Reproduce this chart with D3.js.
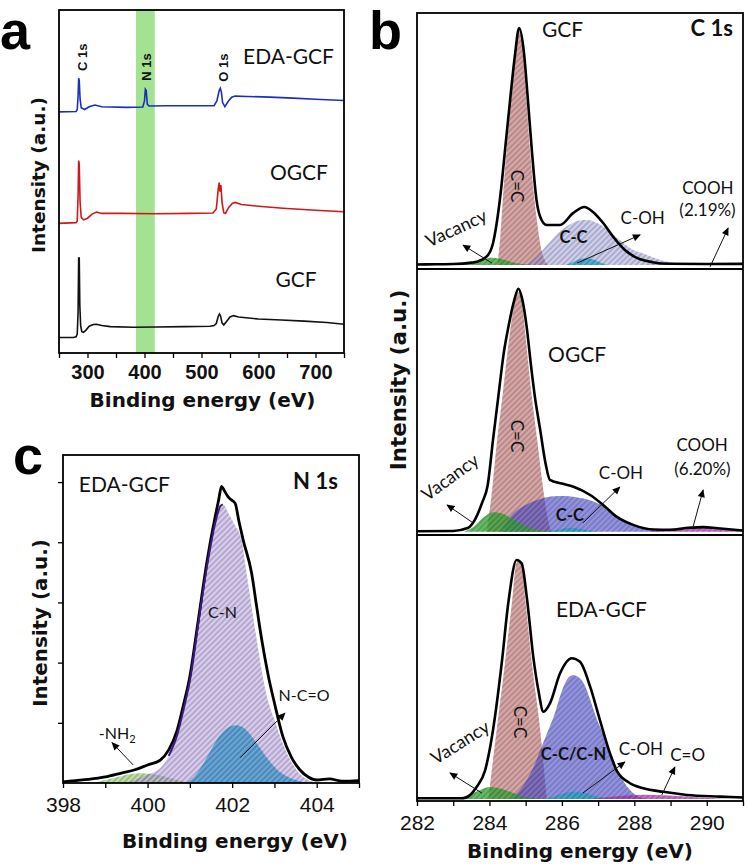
<!DOCTYPE html>
<html><head><meta charset="utf-8">
<script src="https://cdn.jsdelivr.net/npm/d3@7"></script>
<style>body{margin:0;background:#fff} svg{display:block}</style>
</head><body><svg id="c" width="748" height="868"></svg>
<script>
// ---------------- DATA ----------------
// Panel a: XPS survey spectra  [binding energy (eV), intensity (a.u.)]
const surveyGCF = [[250,4.5],[275,4.5],[280,4.7],[282,5.5],[283.5,12],[284.5,27.7],[285.5,27.7],[286.5,14],[288,8],[290,6.2],[293,6.0],[297,6.6],[303,7.8],[310,8.3],[316,8.4],[325,8.0],[340,7.7],[380,7.5],[420,7.6],[470,7.7],[515,7.8],[522,8.0],[526,8.6],[529,10.5],[531.5,11.4],[533.5,10.8],[536,8.8],[539,8.2],[544,9.2],[550,10.5],[556,10.9],[565,10.5],[600,9.9],[640,9.6],[680,9.3],[720,8.9],[750,8.4]];
const surveyOGCF = [[250,37.8],[280,38.0],[282,38.5],[283.5,46],[284.5,56.1],[285.5,55],[287,44],[289,39.5],[293,38.8],[300,39.3],[308,40.5],[316,41.1],[325,40.7],[360,40.7],[420,40.6],[480,40.7],[520,40.8],[526,42],[529.5,48],[531,49.7],[532.5,47],[534,49],[536,44],[539,40.9],[542,40.7],[548,42.5],[554,43.6],[559,43.9],[570,43.3],[600,42.8],[643,42.2],[700,41.6],[750,41.2]];
const surveyEDA = [[250,70.3],[280,70.4],[282,71],[283.5,75],[284.5,80.1],[285.5,79.5],[287,74],[289,71.5],[295,71.0],[303,71.8],[313,72.3],[325,71.8],[369,71.6],[397,71.7],[400,73.5],[401.5,76.9],[403,76.5],[405,72.5],[408,72.0],[440,72.1],[480,72.1],[522,72.1],[527,73.5],[531,76.5],[533,77.2],[535,76],[537,73],[541,71.8],[547,73.4],[553,74.6],[559,74.9],[580,74.8],[620,74.6],[661,74.3],[700,74.0],[750,73.6]];
const surveyBand = [385, 418];
const surveyTicks = [300, 400, 500, 600, 700];
const surveyNames = [["EDA-GCF",652.6,86.6],["OGCF",671,52.6],["GCF",665.8,21.4]];
const surveyPeaks = [["C 1s",291.2,86.2],["N 1s",402.6,83.4],["O 1s",537.7,83.2]];

// Panel b: C 1s high-resolution spectra  [eV, intensity (% of C=C peak)]
const gcfEnv = [[282,0.2],[282.5,0.3],[283,0.4],[283.5,1.0],[283.65,1.4],[283.92,3.5],[284.1,9.3],[284.25,23],[284.34,34.6],[284.43,48.5],[284.57,69.6],[284.7,88],[284.82,100],[284.95,90],[285.05,72],[285.17,48.5],[285.3,27.4],[285.4,20.4],[285.58,16.9],[285.95,16.9],[286.31,21.9],[286.62,24.5],[286.85,22.5],[287.14,17.7],[287.41,12],[287.74,6.3],[288.07,3],[288.5,1.2],[289,0.5],[290,0.4],[291,0.5]];
const gcfCeqC = [[284.22,0],[284.3,12],[284.38,30],[284.47,48],[284.6,70],[284.72,90],[284.82,98.5],[284.9,95],[285.0,75],[285.12,48.5],[285.2,34],[285.3,20],[285.44,6],[285.62,0]];
const gcfVac = [[283.2,0],[283.5,0.8],[283.8,2.3],[284.05,3.1],[284.3,2.6],[284.6,1.3],[284.9,0.4],[285.2,0]];
const gcfCC = [[285.0,0],[285.3,3.5],[285.6,8.5],[285.9,13.5],[286.2,17],[286.5,18.8],[286.7,19],[287.0,17.5],[287.3,14.5],[287.6,10.5],[287.9,7],[288.3,4.5],[288.7,2.2],[289.2,0.6],[289.7,0]];
const gcfCOH = [[286.1,0],[286.3,1.2],[286.5,2.5],[286.65,2.9],[286.85,2.4],[287.05,1.2],[287.25,0]];
const gcfCOOH = [[288.3,0],[289,0.4],[289.8,0.8],[290.5,0.8],[291,0.6]];

const ogcfEnv = [[282,0.2],[283,0.3],[283.4,1.5],[283.6,5],[283.8,12],[283.95,19],[284.1,38],[284.24,55],[284.4,74],[284.52,84],[284.68,95],[284.8,100],[284.9,96],[285.03,84],[285.15,68],[285.25,56],[285.4,42],[285.55,28],[285.67,21.3],[286.0,19.8],[286.32,18.5],[286.78,15.1],[287.14,11],[287.51,6.2],[287.97,2.8],[288.53,0.9],[289,0.8],[289.5,1.6],[289.9,1.9],[290.3,1.4],[291,0.5]];
const ogcfCeqC = [[283.92,0],[284.05,14],[284.2,36],[284.37,57],[284.55,80],[284.72,96],[284.8,98.5],[284.88,96],[285.0,80],[285.15,58],[285.3,40],[285.48,18],[285.6,6],[285.7,0]];
const ogcfVac = [[283.3,0],[283.6,2.5],[283.85,6],[284.1,8],[284.35,7.5],[284.6,5.5],[284.9,3],[285.3,1],[285.8,0]];
const ogcfCC = [[284.3,0],[284.6,6.5],[285.0,11],[285.4,13.5],[285.8,14.6],[286.1,14.7],[286.4,14.2],[286.8,12.8],[287.14,10.5],[287.5,6.2],[287.9,3],[288.4,0.9],[288.9,0]];
const ogcfCOH = [[285.6,0],[285.9,0.9],[286.2,1.6],[286.5,1.2],[286.9,0.2],[287.0,0]];
const ogcfCOOH = [[288.4,0],[288.8,0.8],[289.2,1.6],[289.6,2.0],[290.0,1.7],[290.4,1.0],[290.8,0.4],[291,0.2]];

const edaEnv = [[282,0.3],[283,0.3],[283.28,0.3],[283.65,5.1],[283.88,12],[284.1,29],[284.34,57],[284.52,82],[284.75,100],[284.89,98.6],[285.03,84.6],[285.21,59.5],[285.35,45.6],[285.49,36.5],[285.67,40],[285.95,52.6],[286.27,58.9],[286.5,57.4],[286.78,47],[287.05,33],[287.33,19],[287.51,12],[287.88,6.6],[288.25,4.5],[288.8,3],[289.45,1.7],[290.37,1],[291,0.6]];
const edaCeqC = [[283.97,0],[284.2,29],[284.43,57],[284.62,82],[284.75,99],[284.82,99.5],[284.9,97],[285.0,82],[285.17,57],[285.4,29],[285.58,0]];
const edaVac = [[282.9,0],[283.3,1.2],[283.7,3.5],[284.0,5],[284.3,4.4],[284.6,2.8],[284.9,1.2],[285.3,0.3],[285.5,0]];
const edaCCCN = [[284.6,0],[284.8,3],[285.03,7.9],[285.25,14.5],[285.44,21.9],[285.63,29],[285.81,36],[285.95,43],[286.09,48.5],[286.2,51],[286.32,51.9],[286.45,51],[286.6,48.5],[286.78,41.5],[286.95,34],[287.14,27],[287.3,20.5],[287.42,16.5],[287.6,10],[287.74,6.5],[287.97,2.4],[288.2,0.5],[288.35,0]];
const edaCOH = [[285.5,0],[285.8,1.2],[286.1,2.5],[286.35,3],[286.6,2.6],[286.9,1.4],[287.2,0.4],[287.4,0]];
const edaCeqO = [[286.8,0],[287.3,0.8],[287.8,1.5],[288.3,1.8],[288.8,1.6],[289.3,1.1],[289.8,0.6],[290.3,0.2],[290.6,0]];
const c1sTicks = [282, 284, 286, 288, 290];

// annotation anchors in data units [text, eV, intensity]
const gcfLabels = [["GCF",286.02,99.4],["C-C",286.32,11.6],["C-OH",288.23,20.0],["COOH",290.03,32.7],["(2.19%)",290.02,23.2]];
const ogcfLabels = [["OGCF",286.42,72.9],["C-C",286.22,6.7],["C-OH",287.63,24.4],["COOH",289.87,35.9],["(6.20%)",289.88,26.0]];
const edaLabels = [["EDA-GCF",287.09,79.3],["C-C/C-N",286.32,18.6],["C-OH",288.18,21.1],["C=O",289.47,18.6]];
const gcfArrows = [[284.07,0.8,283.27,8.4],[286.42,0.8,288.16,12.7],[290.09,-0.8,290.59,15.6]];
const ogcfArrows = [[283.55,3.6,282.83,11.0],[286.58,3.6,287.6,18.4],[289.62,1.9,289.9,17.2]];
const edaArrows = [[283.79,2.5,282.91,10.9],[286.58,2.5,287.74,15.5],[288.76,1.7,289.12,13.4]];
const ceqcPos = [[284.76,33.3],[284.77,39.4],[284.84,32.2]];
const vacPos = [[283.08,15.6,-25],[282.91,22.5,-36],[283.19,23.8,-32]];

// Panel c: N 1s high-resolution spectrum [eV, intensity (a.u.)]
const n1sEnv = [[398.0,0.02],[398.3,0.04],[398.6,0.06],[399.0,0.1],[399.4,0.17],[399.7,0.22],[400.0,0.3],[400.3,0.38],[400.5,0.55],[400.7,0.88],[400.85,1.3],[401.0,1.77],[401.2,2.71],[401.4,3.66],[401.6,4.43],[401.68,4.7],[401.75,4.93],[401.82,4.85],[401.92,4.74],[402.07,4.65],[402.16,4.35],[402.26,4.04],[402.46,3.49],[402.58,2.93],[402.7,2.38],[402.85,1.8],[403.0,1.33],[403.2,0.77],[403.4,0.43],[403.6,0.22],[403.8,0.1],[404.0,0.05],[404.3,0.07],[404.6,0.03],[405,0.04]];
const n1sCN = [[399.5,0],[399.8,0.08],[400.0,0.14],[400.3,0.25],[400.5,0.45],[400.7,0.8],[400.85,1.22],[401.0,1.7],[401.2,2.65],[401.4,3.58],[401.6,4.32],[401.72,4.6],[401.78,4.63],[401.9,4.5],[402.05,4.3],[402.22,4.04],[402.34,3.49],[402.46,2.93],[402.58,2.38],[402.8,1.5],[403.0,1.05],[403.2,0.65],[403.4,0.35],[403.6,0.15],[403.8,0.05],[404.0,0]];
const n1sNCO = [[400.9,0],[401.1,0.1],[401.3,0.3],[401.5,0.55],[401.7,0.78],[401.9,0.92],[402.1,0.96],[402.3,0.9],[402.5,0.74],[402.7,0.54],[402.9,0.35],[403.1,0.2],[403.35,0.09],[403.6,0.03],[403.9,0]];
const n1sNH2 = [[398.7,0],[399.0,0.05],[399.3,0.1],[399.6,0.15],[399.85,0.16],[400.1,0.15],[400.4,0.11],[400.7,0.05],[401.0,0]];
const n1sTicks = [398, 400, 402, 404];
const n1sYTicks = [1, 2, 3, 4, 5];
const n1sLabels = [["C-N",401.77,2.84],["N-C=O",403.7,1.46]];
const n1sArrows = [[399.66,0.3,399.16,0.67],[402.19,0.42,403.25,1.16]];

// ---------------- DRAWING ----------------
const svg = d3.select("#c");
const FS = "'Liberation Sans', Arial, sans-serif";
const FL = "Lato, 'Open Sans', sans-serif";
const FT = "'DejaVu Sans', Verdana, sans-serif";
const defs = svg.append("defs");
const pat = defs.append("pattern").attr("id","hatch").attr("width",4).attr("height",4)
  .attr("patternUnits","userSpaceOnUse").attr("patternTransform","rotate(45)");
pat.append("line").attr("x1",1).attr("y1",0).attr("x2",1).attr("y2",4)
  .attr("stroke","#333").attr("stroke-width",1).attr("stroke-opacity",0.45);
defs.append("marker").attr("id","arr").attr("viewBox","0 0 10 10").attr("refX",9).attr("refY",5)
  .attr("markerWidth",9).attr("markerHeight",8).attr("orient","auto").attr("markerUnits","userSpaceOnUse")
  .append("path").attr("d","M0,0.5L10,5L0,9.5Z").attr("fill","#000");

function clip(id,x,y,w,h){defs.append("clipPath").attr("id",id).append("rect").attr("x",x).attr("y",y).attr("width",w).attr("height",h);}
function frame(x,y,w,h){svg.append("rect").attr("x",x).attr("y",y).attr("width",w).attr("height",h).attr("fill","none").attr("stroke","#000").attr("stroke-width",1.8);}
function comp(g,xs,ys,data,color,op){
  const ar = d3.area().x(d=>xs(d[0])).y0(ys(0)).y1(d=>ys(d[1])).curve(d3.curveMonotoneX);
  g.append("path").datum(data).attr("d",ar).attr("fill",color).attr("fill-opacity",op);
  g.append("path").datum(data).attr("d",ar).attr("fill","url(#hatch)");
}
function txt(g,x,y,s,size,font,weight,anchor,rot){
  const t = g.append("text").attr("transform",`translate(${x},${y})`+(rot?` rotate(${rot})`:""))
   .attr("text-anchor",anchor||"middle").attr("dy","0.36em").attr("font-family",font)
   .attr("font-size",size).attr("font-weight",weight||"normal").attr("fill","#111").text(s);
  return t;
}
function arrow(g,x1,y1,x2,y2){g.append("line").attr("x1",x1).attr("y1",y1).attr("x2",x2).attr("y2",y2)
  .attr("stroke","#111").attr("stroke-width",1).attr("marker-end","url(#arr)");}
function styleAxis(ax,size,weight){
  ax.select(".domain").remove();
  ax.selectAll(".tick line").attr("stroke","#000").attr("stroke-width",1.3);
  ax.selectAll(".tick text").attr("font-family",FS).attr("font-size",size).attr("font-weight",weight).attr("fill","#111");
}

// ----- Panel a -----
const xa = d3.scaleLinear().domain([250,750]).range([59,344]);
const ya = d3.scaleLinear().domain([0,100]).range([353,10]);
clip("ca",59,10,285,343);
const ga = svg.append("g").attr("clip-path","url(#ca)");
ga.append("rect").attr("x",xa(surveyBand[0])).attr("y",10).attr("width",xa(surveyBand[1])-xa(surveyBand[0])).attr("height",343).attr("fill","#a3e290");
const la = d3.line().x(d=>xa(d[0])).y(d=>ya(d[1]));
ga.append("path").datum(surveyGCF).attr("d",la).attr("fill","none").attr("stroke","#111").attr("stroke-width",1.6);
ga.append("path").datum(surveyOGCF).attr("d",la).attr("fill","none").attr("stroke","#cc1a1a").attr("stroke-width",1.6);
ga.append("path").datum(surveyEDA).attr("d",la).attr("fill","none").attr("stroke","#1a2fc0").attr("stroke-width",1.6);
frame(59,10,285,343);
const axA = svg.append("g").attr("transform","translate(0,353)")
  .call(d3.axisBottom(xa).tickValues(d3.range(250,751,50)).tickSize(5).tickPadding(7)
  .tickFormat(d=>surveyTicks.includes(d)?d:""));
styleAxis(axA,20,"bold");
surveyNames.forEach(n=>txt(svg,xa(n[1]),ya(n[2]),n[0],21,FL));
surveyPeaks.forEach(n=>txt(svg,xa(n[1]),ya(n[2]),n[0],13,FS,"bold","middle",-90));
txt(svg,38.5,175,"Intensity (a.u.)",18.5,FT,"bold","middle",-90);
txt(svg,202.5,400,"Binding energy (eV)",20,FT,"bold");
svg.append("text").attr("x",0).attr("y",49).attr("font-family",FS).attr("font-weight","bold").attr("font-size",54).text("a");

// ----- Panel b -----
const xb = d3.scaleLinear().domain([282,291]).range([417,743]);
const subs = [
  {top:13,bot:269,base:265,unit:2.37,env:gcfEnv,comps:[[gcfCeqC,"#b03a3a",0.45],[gcfCC,"#8f8fe2",0.42],[gcfVac,"#2ea82e",0.75],[gcfCOH,"#22aad0",0.75],[gcfCOOH,"#b030b0",0.7]],labels:gcfLabels,arrows:gcfArrows},
  {top:269,bot:535,base:531.7,unit:2.43,env:ogcfEnv,comps:[[ogcfCeqC,"#b03a3a",0.45],[ogcfCC,"#4a4ad6",0.6],[ogcfVac,"#2ea82e",0.75],[ogcfCOH,"#22aad0",0.75],[ogcfCOOH,"#b030b0",0.7]],labels:ogcfLabels,arrows:ogcfArrows},
  {top:535,bot:801,base:799,unit:2.39,env:edaEnv,comps:[[edaCeqC,"#b03a3a",0.45],[edaCCCN,"#4a4ad6",0.6],[edaVac,"#2ea82e",0.75],[edaCOH,"#22aad0",0.75],[edaCeqO,"#b030b0",0.7]],labels:edaLabels,arrows:edaArrows}
];
subs.forEach((s,i)=>{
  const ys = d3.scaleLinear().domain([-(s.bot-s.base)/s.unit,(s.base-s.top)/s.unit]).range([s.bot,s.top]);
  clip("cb"+i,417,s.top,326,s.bot-s.top);
  const g = svg.append("g").attr("clip-path",`url(#cb${i})`);
  s.comps.forEach(c=>comp(g,xb,ys,c[0],c[1],c[2]));
  g.append("path").datum(s.env).attr("d",d3.line().x(d=>xb(d[0])).y(d=>ys(d[1])).curve(d3.curveMonotoneX))
    .attr("fill","none").attr("stroke","#000").attr("stroke-width",2.6).attr("stroke-linejoin","round");
  const gl = svg.append("g");
  s.labels.forEach((L,j)=>{
    const first = j===0;
    const bold = L[0].startsWith("C-C");
    txt(gl,xb(L[1]),ys(L[2]),L[0],first?21:(bold?16.5:17),FL,bold?"bold":"normal");
  });
  s.arrows.forEach(a=>arrow(gl,xb(a[0]),ys(a[1]),xb(a[2]),ys(a[3])));
  txt(gl,xb(ceqcPos[i][0]),ys(ceqcPos[i][1]),"C=C",17,FL,"normal","middle",90);
  txt(gl,xb(vacPos[i][0]),ys(vacPos[i][1]),"Vacancy",18,FL,"normal","middle",vacPos[i][2]);
  if(i===0) txt(gl,xb(290.72),ys(99.8),"C 1s",22,FL,"bold","end");
});
frame(417,13,326,788);
svg.append("line").attr("x1",417).attr("x2",743).attr("y1",269).attr("y2",269).attr("stroke","#000").attr("stroke-width",1.8);
svg.append("line").attr("x1",417).attr("x2",743).attr("y1",535).attr("y2",535).attr("stroke","#000").attr("stroke-width",1.8);
const axB = svg.append("g").attr("transform","translate(0,801)")
  .call(d3.axisBottom(xb).tickValues(d3.range(282,292,1)).tickSize(5).tickPadding(9)
  .tickFormat(d=>c1sTicks.includes(d)?d:""));
styleAxis(axB,21,"normal");
txt(svg,398.5,380,"Intensity (a.u.)",21.4,FT,"bold","middle",-90);
txt(svg,580,851,"Binding energy (eV)",20,FT,"bold");
svg.append("text").attr("x",369).attr("y",49).attr("font-family",FS).attr("font-weight","bold").attr("font-size",54).text("b");

// ----- Panel c -----
const xc = d3.scaleLinear().domain([398,405]).range([63,359]);
const yc = d3.scaleLinear().domain([0,5.45]).range([783,455]);
clip("cc",63,455,296,328);
const gc = svg.append("g").attr("clip-path","url(#cc)");
comp(gc,xc,yc,n1sNH2,"#8fd16a",0.6);
comp(gc,xc,yc,n1sCN,"#b59ae8",0.5);
comp(gc,xc,yc,n1sNCO,"#3d9bd8",0.75);
gc.append("path").datum(n1sEnv).attr("d",d3.line().x(d=>xc(d[0])).y(d=>yc(d[1])).curve(d3.curveMonotoneX))
  .attr("fill","none").attr("stroke","#000").attr("stroke-width",2.8).attr("stroke-linejoin","round");
const cnPeak = d3.max(n1sCN,d=>d[1]);
const cnLeft = n1sCN.filter(d=>d[0] <= n1sCN.find(p=>p[1]===cnPeak)[0] && d[1]>0.4);
gc.append("path").datum(cnLeft).attr("d",d3.line().x(d=>xc(d[0])).y(d=>yc(d[1])).curve(d3.curveMonotoneX))
  .attr("fill","none").attr("stroke","#3a1a7a").attr("stroke-width",2);
frame(63,455,296,328);
const axC = svg.append("g").attr("transform","translate(0,783)")
  .call(d3.axisBottom(xc).tickValues(d3.range(398,406,1)).tickSize(5).tickPadding(9)
  .tickFormat(d=>n1sTicks.includes(d)?d:""));
styleAxis(axC,21,"normal");
const axCy = svg.append("g").attr("transform","translate(63,0)")
  .call(d3.axisLeft(yc).tickValues(n1sYTicks).tickSize(5).tickFormat(""));
styleAxis(axCy,10,"normal");
txt(svg,xc(399.45),yc(4.96),"EDA-GCF",21,FL);
txt(svg,xc(404.5),yc(5.01),"N 1s",22,FL,"bold","end");
n1sLabels.forEach(L=>txt(svg,xc(L[1]),yc(L[2]),L[0],16,FL));
const nh = txt(svg,xc(399.28),yc(0.82),"",16,FL);
nh.append("tspan").text("-NH");
nh.append("tspan").attr("font-size",11).attr("dy","0.3em").text("2");
n1sArrows.forEach(a=>arrow(svg,xc(a[0]),yc(a[1]),xc(a[2]),yc(a[3])));
txt(svg,40,623,"Intensity (a.u.)",19.9,FT,"bold","middle",-90);
txt(svg,235,841,"Binding energy (eV)",20,FT,"bold");
svg.append("text").attr("x",13).attr("y",474).attr("font-family",FS).attr("font-weight","bold").attr("font-size",54).text("c");
</script></body></html>
